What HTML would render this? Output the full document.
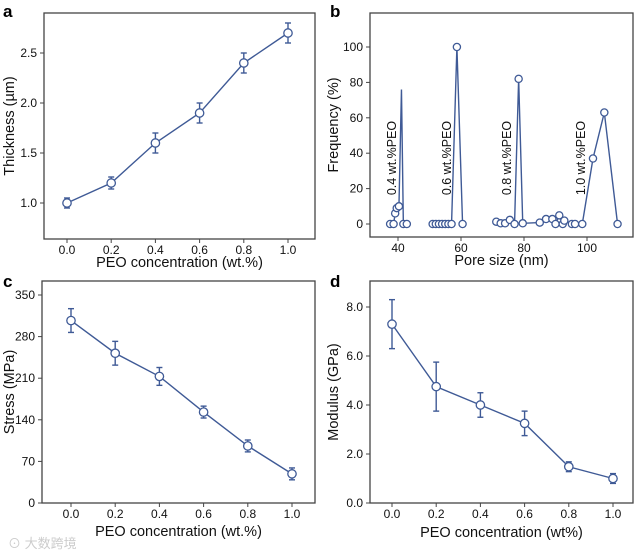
<!DOCTYPE html>
<html><head><meta charset="utf-8"><style>
body{margin:0;background:#fff;}
svg{display:block;font-family:"Liberation Sans",Arial,sans-serif;}
</style></head><body>
<svg id="fig" width="636" height="557" viewBox="0 0 636 557"></svg>
<script>
// Panel a
const aX=[0,0.2,0.4,0.6,0.8,1.0];
const aY=[1.0,1.2,1.6,1.9,2.4,2.7];
const aErr=[0.05,0.06,0.1,0.1,0.1,0.1];
const aYTicks=[1.0,1.5,2.0,2.5];
const xTicks=[0,0.2,0.4,0.6,0.8,1.0];
// Panel c
const cY=[307,252,213,153,96,49];
const cErr=[20,20,15,10,10,10];
const cYTicks=[0,70,140,210,280,350];
// Panel d
const dY=[7.3,4.75,4.0,3.25,1.48,1.0];
const dErr=[1.0,1.0,0.5,0.5,0.2,0.2];
const dYTicks=[0,2,4,6,8];
// Panel b
const bS1x=[37.5,38.6,39.1,39.6,40.3,41.1,41.7,42.8];
const bS1y=[0,0,6,9,10,76,0,0];
const bS1m=[1,1,1,1,1,0,1,1];
const bS2x=[51,52,53,54,55,56,57,58.7,60.5];
const bS2y=[0,0,0,0,0,0,0,100,0];
const bS3x=[71.2,72.6,74,75.5,77,78.3,79.6,85,87,89,90,91.2,92.3,92.8,95.2,96.2,98.5,101.9,105.5,109.7];
const bS3y=[1.3,0.4,0.4,2.3,0,82,0.4,0.8,2.8,2.8,0,4.9,0,1.9,0,0,0,37,63,0];
const bXTicks=[40,60,80,100];
const bYTicks=[0,20,40,60,80,100];
const bLabels=["0.4 wt.%PEO","0.6 wt.%PEO","0.8 wt.%PEO","1.0 wt.%PEO"];
const bLabelX=[37.8,55.2,74.3,97.8];

const NS="http://www.w3.org/2000/svg";
const svg=document.getElementById('fig');
const C="#3f5a96";
function el(tag,attrs,parent,name,text){
  const e=document.createElementNS(NS,tag);
  for(const k in attrs)e.setAttribute(k,attrs[k]);
  
  
  if(text!==undefined)e.textContent=text;
  (parent||svg).appendChild(e);return e;
}
function lin(d0,d1,p0,p1){return v=>p0+(v-d0)*(p1-p0)/(d1-d0);}
function frame(g,box,letter,lx,ly){
  el('rect',{x:box.x0,y:box.y0,width:box.x1-box.x0,height:box.y1-box.y0,fill:'none',stroke:'#444','stroke-width':1.3},g,'plot-frame');
  el('text',{x:lx,y:ly,'font-size':17,'font-weight':'bold',fill:'#000'},g,'panel-label',letter);
}
function xAxis(g,box,sx,ticks,fmt,title,ty){
  ticks.forEach(t=>{const x=sx(t);
    el('line',{x1:x,x2:x,y1:box.y1,y2:box.y1+4,stroke:'#444'},g,'x-tick');
    el('text',{x:x,y:box.y1+15,'font-size':12,'text-anchor':'middle',fill:'#111'},g,'x-tick-label',fmt(t));});
  el('text',{x:(box.x0+box.x1)/2,y:ty,'font-size':14.5,'text-anchor':'middle',fill:'#111'},g,'x-axis-title',title);
}
function yAxis(g,box,sy,ticks,fmt,title,tx){
  ticks.forEach(t=>{const y=sy(t);
    el('line',{x1:box.x0-4,x2:box.x0,y1:y,y2:y,stroke:'#444'},g,'y-tick');
    el('text',{x:box.x0-7,y:y+4,'font-size':12,'text-anchor':'end',fill:'#111'},g,'y-tick-label',fmt(t));});
  const cy=(box.y0+box.y1)/2;
  el('text',{x:tx,y:cy,'font-size':14.5,'text-anchor':'middle',fill:'#111',transform:`rotate(-90 ${tx} ${cy})`},g,'y-axis-title',title);
}
function series(g,xs,ys,errs,sx,sy,marks){
  el('polyline',{points:xs.map((x,i)=>sx(x)+','+sy(ys[i])).join(' '),fill:'none',stroke:C,'stroke-width':1.4},g,'data-line');
  xs.forEach((x,i)=>{
    const px=sx(x),py=sy(ys[i]);
    if(errs){const t=sy(ys[i]+errs[i]),b=sy(ys[i]-errs[i]);
      el('line',{x1:px,x2:px,y1:t,y2:b,stroke:C,'stroke-width':1.4},g,'error-bar');
      el('line',{x1:px-3,x2:px+3,y1:t,y2:t,stroke:C,'stroke-width':1.4},g,'error-cap');
      el('line',{x1:px-3,x2:px+3,y1:b,y2:b,stroke:C,'stroke-width':1.4},g,'error-cap');}
    if(!marks||marks[i])el('circle',{cx:px,cy:py,r:errs?4.2:3.6,fill:'#fff',stroke:C,'stroke-width':1.3},g,'data-point');
  });
}
const f1=v=>v.toFixed(1);
// a
{const g=el('g',{},svg,'panel-a-thickness');const box={x0:44,x1:315,y0:13,y1:239};
 const sx=lin(0,1,67,288),sy=lin(1,2.5,203,53);
 frame(g,box,'a',3,17);xAxis(g,box,sx,xTicks,f1,'PEO concentration (wt.%)',267);
 yAxis(g,box,sy,aYTicks,f1,'Thickness (µm)',14);series(g,aX,aY,aErr,sx,sy);}
// b
{const g=el('g',{},svg,'panel-b-pore-size');const box={x0:370,x1:633,y0:13,y1:237};
 const sx=lin(40,100,398,587),sy=lin(0,100,224,47);
 frame(g,box,'b',330,17);xAxis(g,box,sx,bXTicks,v=>String(v),'Pore size (nm)',265);
 yAxis(g,box,sy,bYTicks,v=>String(v),'Frequency (%)',338);
 series(g,bS1x,bS1y,null,sx,sy,bS1m);series(g,bS2x,bS2y,null,sx,sy);series(g,bS3x,bS3y,null,sx,sy);
 bLabels.forEach((t,i)=>{const x=sx(bLabelX[i])+5,y=158;
  el('text',{x:x,y:y,'font-size':12.5,'text-anchor':'middle',fill:'#111',transform:`rotate(-90 ${x} ${y})`},g,'series-label',t);});}
// c
{const g=el('g',{},svg,'panel-c-stress');const box={x0:42,x1:315,y0:281,y1:503};
 const sx=lin(0,1,71,292),sy=lin(0,350,503,295);
 frame(g,box,'c',3,287);xAxis(g,box,sx,xTicks,f1,'PEO concentration (wt.%)',536);
 yAxis(g,box,sy,cYTicks,v=>String(v),'Stress (MPa)',14);series(g,aX,cY,cErr,sx,sy);}
// d
{const g=el('g',{},svg,'panel-d-modulus');const box={x0:370,x1:633,y0:281,y1:503};
 const sx=lin(0,1,392,613),sy=lin(0,8,503,307);
 frame(g,box,'d',330,287);xAxis(g,box,sx,xTicks,f1,'PEO concentration (wt%)',537);
 yAxis(g,box,sy,dYTicks,f1,'Modulus (GPa)',338);series(g,aX,dY,dErr,sx,sy);}
el('text',{x:8,y:548,'font-size':13,fill:'#ccc','font-family':'"Liberation Sans","Noto Sans CJK SC",sans-serif'},svg,'watermark','⊙ 大数跨境');
</script>
</body></html>
